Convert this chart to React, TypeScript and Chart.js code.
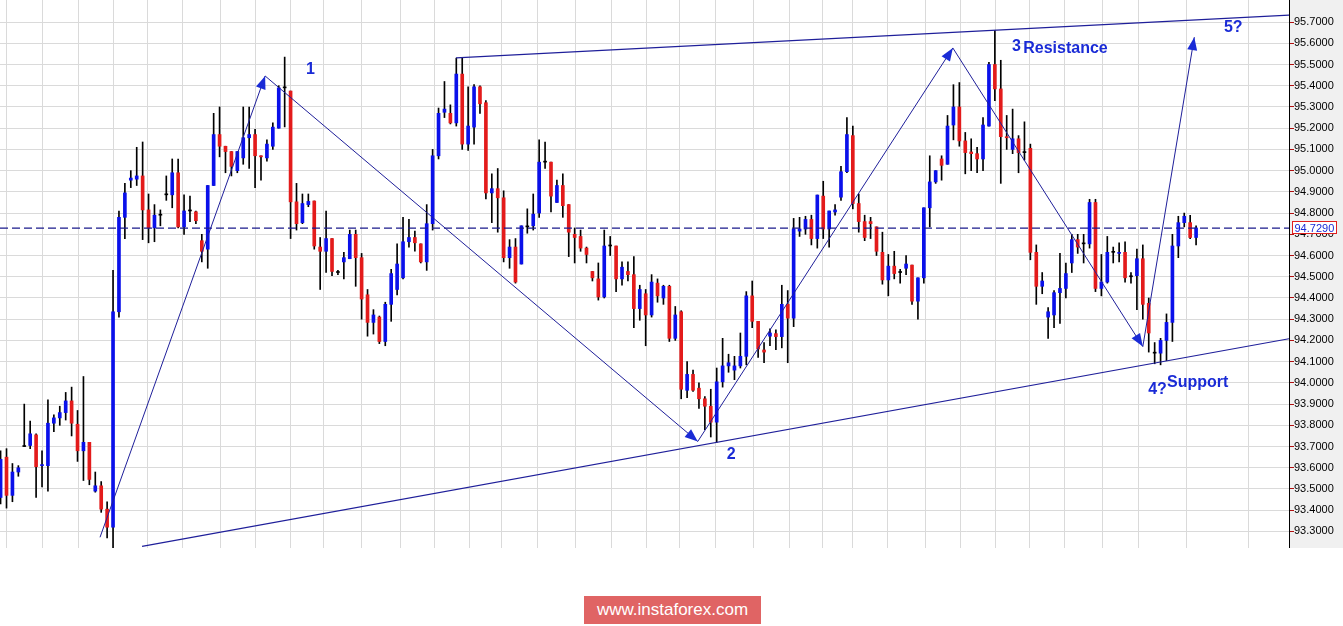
import React, { useEffect, useRef } from "react";
import { Chart, registerables } from "chart.js";

Chart.register(...registerables);

// ---- Candle data (hourly bars, index = bar number) ----
const opens = [
  93.46, 93.65, 93.47, 93.58, 93.70, 93.705, 93.755, 93.61, 93.61, 93.81,
  93.835, 93.86, 93.915, 93.805, 93.68, 93.72, 93.49, 93.515, 93.405, 93.32,
  94.335, 94.78, 94.955, 94.96, 94.975, 94.815, 94.73, 94.79, 94.886, 94.886,
  94.99, 94.735, 94.81, 94.806, 94.67, 94.63, 94.93, 95.17, 95.115, 95.09,
  95.0, 95.06, 95.155, 95.17, 95.07, 95.06, 95.115, 95.2, 95.39, 95.375,
  94.853, 94.755, 94.84, 94.857, 94.64, 94.62, 94.68, 94.52, 94.57, 94.585,
  94.70, 94.59, 94.415, 94.285, 94.31, 94.195, 94.37, 94.44, 94.495, 94.665,
  94.685, 94.655, 94.57, 94.75, 95.07, 95.275, 95.27, 95.225, 95.455, 95.125,
  95.205, 95.395, 95.32, 94.895, 94.915, 94.872, 94.59, 94.64, 94.56, 94.735,
  94.74, 94.80, 95.04, 95.04, 94.85, 94.93, 94.84, 94.70, 94.69, 94.635,
  94.525, 94.49, 94.405, 94.645, 94.645, 94.49, 94.525, 94.51, 94.35, 94.42,
  94.32, 94.47, 94.40, 94.455, 94.21, 94.335, 93.965, 94.04, 93.975, 93.925,
  93.89, 93.815, 94.005, 94.08, 94.06, 94.08, 94.125, 94.41, 94.29, 94.155,
  94.22, 94.232, 94.218, 94.37, 94.305, 94.715, 94.725, 94.77, 94.68, 94.88,
  94.725, 94.805, 94.875, 94.995, 95.165, 94.845, 94.76, 94.76, 94.735, 94.615,
  94.485, 94.55, 94.52, 94.54, 94.555, 94.385, 94.495, 94.825, 94.947, 95.055,
  95.03, 95.215, 95.30, 95.14, 95.088, 95.08, 95.055, 95.21, 95.50, 95.385,
  95.16, 95.10, 95.15, 95.085, 95.105, 94.615, 94.455, 94.31, 94.32, 94.425,
  94.445, 94.565, 94.675, 94.655, 94.655, 94.85, 94.445, 94.475, 94.615, 94.61,
  94.615, 94.50, 94.505, 94.585, 94.375, 94.14, 94.14, 94.20, 94.285, 94.645,
  94.755, 94.755, 94.685,
];
const highs = [
  93.68, 93.69, 93.62, 93.61, 93.90, 93.82, 93.76, 93.68, 93.92, 93.85,
  93.89, 93.955, 93.98, 93.87, 94.03, 93.72, 93.58, 93.535, 93.44, 94.53,
  94.81, 94.94, 95.0, 95.11, 95.135, 94.89, 94.84, 94.815, 94.975, 95.055,
  95.055, 94.886, 94.88, 94.81, 94.70, 94.93, 95.27, 95.30, 95.115, 95.09,
  95.09, 95.30, 95.30, 95.195, 95.07, 95.145, 95.225, 95.40, 95.535, 95.375,
  94.94, 94.89, 94.89, 94.857, 94.685, 94.81, 94.68, 94.53, 94.615, 94.72,
  94.72, 94.61, 94.44, 94.345, 94.315, 94.38, 94.535, 94.655, 94.78, 94.77,
  94.715, 94.655, 94.84, 95.10, 95.295, 95.42, 95.31, 95.53, 95.53, 95.395,
  95.405, 95.40, 95.33, 94.985, 95.01, 94.905, 94.675, 94.68, 94.74, 94.82,
  94.89, 95.145, 95.135, 95.04, 94.955, 94.985, 94.84, 94.73, 94.72, 94.64,
  94.525, 94.565, 94.72, 94.69, 94.645, 94.57, 94.57, 94.595, 94.46, 94.44,
  94.51, 94.49, 94.46, 94.46, 94.36, 94.34, 94.10, 94.06, 94.0, 93.935,
  93.97, 94.07, 94.21, 94.135, 94.125, 94.235, 94.43, 94.48, 94.29, 94.19,
  94.255, 94.25, 94.46, 94.435, 94.775, 94.78, 94.785, 94.79, 94.885, 94.95,
  94.81, 94.84, 95.02, 95.25, 95.21, 94.89, 94.79, 94.78, 94.735, 94.71,
  94.605, 94.62, 94.535, 94.60, 94.555, 94.495, 94.825, 95.07, 95.0, 95.07,
  95.26, 95.405, 95.415, 95.18, 95.15, 95.11, 95.25, 95.51, 95.66, 95.52,
  95.26, 95.29, 95.165, 95.23, 95.125, 94.65, 94.52, 94.355, 94.435, 94.61,
  94.565, 94.70, 94.70, 94.70, 94.865, 94.865, 94.605, 94.69, 94.64, 94.66,
  94.665, 94.52, 94.63, 94.65, 94.40, 94.19, 94.21, 94.325, 94.70, 94.785,
  94.80, 94.79, 94.74,
];
const lows = [
  93.43, 93.41, 93.44, 93.56, 93.70, 93.69, 93.46, 93.51, 93.49, 93.77,
  93.80, 93.825, 93.75, 93.63, 93.54, 93.52, 93.485, 93.39, 93.27, 93.22,
  94.31, 94.68, 94.92, 94.93, 94.675, 94.66, 94.665, 94.74, 94.86, 94.825,
  94.73, 94.70, 94.76, 94.75, 94.57, 94.54, 94.93, 95.065, 94.99, 94.975,
  94.99, 95.03, 95.01, 94.92, 94.955, 95.045, 95.10, 95.20, 95.206, 94.68,
  94.72, 94.75, 94.83, 94.63, 94.44, 94.52, 94.505, 94.51, 94.49, 94.585,
  94.455, 94.30, 94.22, 94.23, 94.185, 94.175, 94.29, 94.415, 94.49, 94.64,
  94.62, 94.565, 94.53, 94.72, 95.055, 95.25, 95.22, 95.21, 95.10, 95.095,
  95.125, 95.27, 94.867, 94.755, 94.71, 94.57, 94.54, 94.47, 94.56, 94.705,
  94.72, 94.78, 95.01, 94.805, 94.85, 94.78, 94.595, 94.565, 94.62, 94.565,
  94.48, 94.39, 94.40, 94.60, 94.43, 94.46, 94.48, 94.26, 94.295, 94.175,
  94.31, 94.38, 94.37, 94.195, 94.20, 93.925, 93.93, 93.96, 93.88, 93.78,
  93.745, 93.72, 93.98, 94.05, 94.015, 94.07, 94.085, 94.26, 94.12, 94.095,
  94.175, 94.157, 94.165, 94.095, 94.265, 94.69, 94.70, 94.65, 94.635, 94.68,
  94.64, 94.79, 94.86, 94.99, 94.82, 94.71, 94.67, 94.68, 94.60, 94.465,
  94.41, 94.49, 94.47, 94.51, 94.37, 94.30, 94.47, 94.735, 94.94, 94.955,
  95.03, 95.145, 95.115, 94.985, 95.0, 94.99, 95.0, 95.21, 95.33, 94.94,
  95.10, 95.08, 94.99, 95.05, 94.58, 94.37, 94.42, 94.21, 94.26, 94.28,
  94.40, 94.52, 94.61, 94.565, 94.635, 94.43, 94.41, 94.47, 94.565, 94.57,
  94.475, 94.47, 94.345, 94.30, 94.145, 94.09, 94.085, 94.105, 94.195, 94.59,
  94.735, 94.68, 94.65,
];
const closes = [
  93.64, 93.47, 93.58, 93.60, 93.70, 93.76, 93.605, 93.615, 93.81, 93.835,
  93.86, 93.915, 93.81, 93.68, 93.72, 93.545, 93.515, 93.405, 93.32, 94.335,
  94.78, 94.895, 94.965, 94.975, 94.815, 94.73, 94.79, 94.79, 94.886, 94.99,
  94.735, 94.81, 94.81, 94.764, 94.62, 94.93, 95.17, 95.115, 95.09, 95.02,
  95.09, 95.155, 95.17, 95.07, 95.065, 95.125, 95.205, 95.39, 95.39, 94.853,
  94.75, 94.845, 94.855, 94.645, 94.62, 94.68, 94.525, 94.52, 94.59, 94.70,
  94.59, 94.395, 94.285, 94.32, 94.195, 94.37, 94.515, 94.56, 94.665, 94.685,
  94.66, 94.57, 94.75, 95.07, 95.27, 95.29, 95.225, 95.455, 95.125, 95.21,
  95.395, 95.315, 94.895, 94.915, 94.872, 94.59, 94.64, 94.475, 94.74, 94.735,
  94.795, 95.04, 95.04, 94.88, 94.93, 94.835, 94.71, 94.685, 94.635, 94.605,
  94.495, 94.405, 94.645, 94.645, 94.49, 94.545, 94.51, 94.35, 94.44, 94.32,
  94.475, 94.41, 94.455, 94.21, 94.32, 93.97, 94.04, 93.965, 93.925, 93.89,
  93.815, 94.005, 94.08, 94.095, 94.08, 94.125, 94.41, 94.29, 94.16, 94.145,
  94.235, 94.218, 94.37, 94.305, 94.725, 94.725, 94.77, 94.68, 94.885, 94.725,
  94.81, 94.815, 94.995, 95.17, 94.845, 94.76, 94.685, 94.75, 94.62, 94.485,
  94.55, 94.515, 94.52, 94.56, 94.385, 94.495, 94.825, 94.947, 95.0, 95.025,
  95.21, 95.30, 95.14, 95.085, 95.08, 95.055, 95.215, 95.50, 95.385, 95.16,
  95.155, 95.15, 95.085, 95.085, 94.615, 94.455, 94.48, 94.335, 94.425, 94.445,
  94.515, 94.675, 94.64, 94.655, 94.85, 94.445, 94.475, 94.615, 94.615, 94.615,
  94.495, 94.50, 94.585, 94.37, 94.235, 94.14, 94.20, 94.285, 94.645, 94.755,
  94.785, 94.685, 94.73,
];

const lastPrice = 94.729;

// Price axis tick labels
const yTickValues = [
  93.3, 93.4, 93.5, 93.6, 93.7, 93.8, 93.9, 94.0, 94.1, 94.2, 94.3, 94.4, 94.5,
  94.6, 94.7, 94.8, 94.9, 95.0, 95.1, 95.2, 95.3, 95.4, 95.5, 95.6, 95.7,
];
// Vertical grid (session separators), in bar-index units
const xGridValues = [
  3.96, 10.04, 16.12, 22.04, 27.44, 34.03, 40.12, 46.03, 51.94, 57.18, 64.79,
  70.19, 76.28, 82.02, 87.26, 94.19, 100.1, 106.19, 112.1, 117.34, 124.1,
  130.18, 136.26, 141.33, 146.4, 153.33, 159.07, 165.16, 171.07, 176.48,
  183.07, 189.32, 195.07, 205.55,
];

// Elliott wave path (bar index, price)
const waveX = [16.8, 44.7, 117.8, 160.9, 193.0, 201.7];
const waveY = [93.2725, 95.446, 93.724, 95.578, 94.171, 95.629];
// Trend lines
const supportX = [23.9, 217.7];
const supportY = [93.23, 94.208];
const resistanceX = [76.95, 217.7];
const resistanceY = [95.531, 95.733];

// Text annotations
const labelTexts = ["1", "2", "3", "Resistance", "5?", "4?", "Support"];
const labelX = [51.6, 122.7, 170.9, 172.8, 206.7, 193.9, 197.1];
const labelY = [95.455, 93.639, 95.5635, 95.554, 95.653, 93.949, 93.982];

const X_MIN = -0.1;
const X_MAX = 217.7;

const BLUE = "#0a10ea";
const RED = "#e31b1b";
const LINE_NAVY = "#1f1f9a";
const TEXT_BLUE = "#1a2bd6";
const FONT = "'Liberation Sans', Arial, sans-serif";

export default function App() {
  const canvasRef = useRef<HTMLCanvasElement | null>(null);

  useEffect(() => {
    const canvas = canvasRef.current;
    if (!canvas) return;

    const idx = opens.map((_, i) => i);
    const wickData = idx.map((i) => ({ x: i, y: [lows[i], highs[i]] }));
    const bodyData = idx.map((i) => ({ x: i, y: [opens[i], closes[i]] }));
    const bodyColors = idx.map((i) =>
      closes[i] > opens[i] ? BLUE : closes[i] < opens[i] ? RED : "#000000"
    );
    const wave = waveX.map((x, i) => ({ x, y: waveY[i] }));
    const support = supportX.map((x, i) => ({ x, y: supportY[i] }));
    const resistance = resistanceX.map((x, i) => ({ x, y: resistanceY[i] }));
    const priceLine = [
      { x: X_MIN, y: lastPrice },
      { x: X_MAX, y: lastPrice },
    ];

    const overlay = {
      id: "overlay",
      beforeDraw(chart: any) {
        const { ctx, chartArea, width } = chart;
        ctx.save();
        ctx.fillStyle = "#ffffff";
        ctx.fillRect(0, 0, width, chart.height);
        ctx.fillStyle = "#f0f0f0";
        ctx.fillRect(chartArea.right, 0, width - chartArea.right, chartArea.bottom);
        ctx.restore();
      },
      afterDatasetsDraw(chart: any) {
        const { ctx, scales, chartArea } = chart;
        const xs = scales.x;
        const ys = scales.y;
        ctx.save();
        ctx.beginPath();
        ctx.rect(chartArea.left, chartArea.top, chartArea.right - chartArea.left, chartArea.bottom - chartArea.top);
        ctx.clip();
        // arrowheads
        ctx.fillStyle = TEXT_BLUE;
        for (let i = 1; i < waveX.length; i++) {
          const x1 = xs.getPixelForValue(waveX[i - 1]);
          const y1 = ys.getPixelForValue(waveY[i - 1]);
          const x2 = xs.getPixelForValue(waveX[i]);
          const y2 = ys.getPixelForValue(waveY[i]);
          const ang = Math.atan2(y2 - y1, x2 - x1);
          const len = 13;
          const half = 5;
          const bx = x2 - len * Math.cos(ang);
          const by = y2 - len * Math.sin(ang);
          ctx.beginPath();
          ctx.moveTo(x2, y2);
          ctx.lineTo(bx + half * Math.sin(ang), by - half * Math.cos(ang));
          ctx.lineTo(bx - half * Math.sin(ang), by + half * Math.cos(ang));
          ctx.closePath();
          ctx.fill();
        }
        // labels
        ctx.font = `bold 16px ${FONT}`;
        ctx.textAlign = "left";
        ctx.textBaseline = "alphabetic";
        labelTexts.forEach((t, i) => {
          ctx.fillText(t, xs.getPixelForValue(labelX[i]), ys.getPixelForValue(labelY[i]));
        });
        ctx.restore();
      },
      afterDraw(chart: any) {
        const { ctx, scales, chartArea } = chart;
        const y = Math.round(scales.y.getPixelForValue(lastPrice));
        const x0 = chartArea.right + 3.5;
        ctx.save();
        ctx.fillStyle = "#ffffff";
        ctx.fillRect(x0, y - 6.5, 44, 12);
        ctx.strokeStyle = "#e02020";
        ctx.lineWidth = 1;
        ctx.strokeRect(x0, y - 6.5, 44, 12);
        ctx.fillStyle = "#1a2bd6";
        ctx.font = `11px ${FONT}`;
        ctx.textAlign = "left";
        ctx.textBaseline = "middle";
        ctx.fillText(lastPrice.toFixed(4), x0 + 2, y + 0.5);
        ctx.restore();
      },
    };

    const chart = new Chart(canvas, {
      type: "bar",
      data: {
        datasets: [
          {
            type: "line",
            data: wave,
            borderColor: LINE_NAVY,
            borderWidth: 1,
            pointRadius: 0,
            fill: false,
            tension: 0,
            order: 0,
          } as any,
          {
            type: "line",
            data: support,
            borderColor: LINE_NAVY,
            borderWidth: 1.2,
            pointRadius: 0,
            fill: false,
            order: 0,
          } as any,
          {
            type: "line",
            data: resistance,
            borderColor: LINE_NAVY,
            borderWidth: 1.2,
            pointRadius: 0,
            fill: false,
            order: 0,
          } as any,
          {
            type: "line",
            data: priceLine,
            borderColor: "#1a1a8c",
            borderWidth: 1.2,
            borderDash: [8, 4],
            pointRadius: 0,
            fill: false,
            order: 0,
          } as any,
          {
            type: "bar",
            data: bodyData as any,
            backgroundColor: bodyColors,
            barThickness: 3,
            minBarLength: 1,
            grouped: false,
            borderWidth: 0,
            order: 1,
          } as any,
          {
            type: "bar",
            data: wickData as any,
            backgroundColor: "#000000",
            barThickness: 1,
            grouped: false,
            borderWidth: 0,
            order: 2,
          } as any,
        ],
      },
      options: {
        responsive: false,
        animation: false,
        events: [],
        layout: { padding: 0 },
        plugins: {
          legend: { display: false },
          tooltip: { enabled: false },
        },
        scales: {
          x: {
            type: "linear",
            min: X_MIN,
            max: X_MAX,
            offset: false,
            grid: { color: "#dadada", lineWidth: 1, drawTicks: false },
            border: { display: false },
            ticks: { display: false },
            afterBuildTicks: (scale: any) => {
              scale.ticks = xGridValues.map((v) => ({ value: v }));
            },
            afterFit: (scale: any) => {
              scale.height = 0;
              scale.paddingLeft = 0;
              scale.paddingRight = 0;
            },
          },
          y: {
            type: "linear",
            position: "right",
            min: 93.222,
            max: 95.804,
            grid: {
              color: "#dadada",
              lineWidth: 1,
              drawTicks: true,
              tickLength: 5,
              tickColor: "#b01010",
            },
            border: { display: true, color: "#000000", width: 1 },
            ticks: {
              padding: 0,
              color: "#000000",
              font: { family: FONT, size: 11 },
              callback: (v: any) => Number(v).toFixed(4),
            },
            afterBuildTicks: (scale: any) => {
              scale.ticks = yTickValues.map((v) => ({ value: v }));
            },
            afterFit: (scale: any) => {
              scale.width = 54;
              scale.paddingTop = 0;
              scale.paddingBottom = 0;
            },
          },
        },
      },
      plugins: [overlay],
    });

    return () => chart.destroy();
  }, []);

  return (
    <div
      style={{
        position: "absolute",
        left: 0,
        top: 0,
        width: 1343,
        height: 626,
        background: "#ffffff",
        overflow: "hidden",
      }}
    >
      <canvas
        ref={canvasRef}
        width={1343}
        height={548}
        style={{ position: "absolute", left: 0, top: 0, width: 1343, height: 548 }}
      />
      <div
        style={{
          position: "absolute",
          left: 584,
          top: 596,
          width: 177,
          height: 28,
          background: "#e06464",
          color: "#ffffff",
          fontFamily: FONT,
          fontSize: 17,
          lineHeight: "28px",
          textAlign: "center",
        }}
      >
        www.instaforex.com
      </div>
    </div>
  );
}
